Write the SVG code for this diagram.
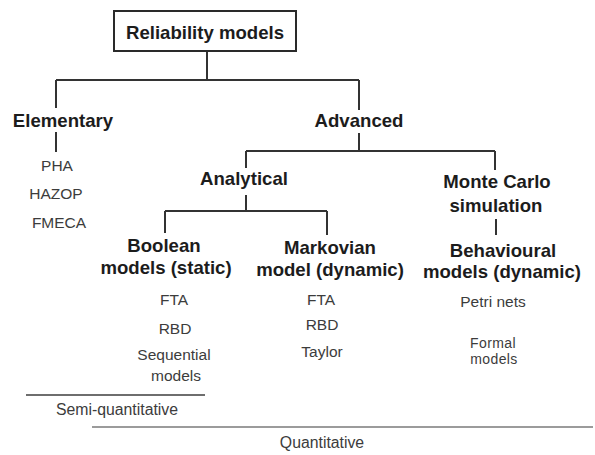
<svg xmlns="http://www.w3.org/2000/svg" width="595" height="455" viewBox="0 0 595 455">
  <style>
    .h { font-family: "Liberation Sans", Arial, sans-serif; font-weight: bold; font-size: 18.6px; fill: #1c1c1c; text-anchor: middle; }
    .t { font-family: "Liberation Sans", Arial, sans-serif; font-size: 15.5px; fill: #3c3c3c; text-anchor: middle; }
    .s { font-family: "Liberation Sans", Arial, sans-serif; font-size: 14px; letter-spacing: 0.4px; fill: #3c3c3c; text-anchor: middle; }
    .q { font-family: "Liberation Sans", Arial, sans-serif; font-size: 15.8px; fill: #3c3c3c; text-anchor: middle; }
    .c { fill: none; stroke: #333; stroke-width: 2; }
    .box { fill: #fff; stroke: #2a2a2a; stroke-width: 2; }
  </style>
  <rect width="595" height="455" fill="#fff"/>

  <!-- tree connectors -->
  <g id="connectors" class="c">
    <path d="M207 51 V80 M56 80 H359 M56 80 V108 M359 80 V110"/>
    <path d="M56 132 V152"/>
    <path d="M359 133 V151 M246 151 H495 M246 151 V168 M495 151 V170"/>
    <path d="M246 195 V211 M165 211 H327 M165 211 V233 M327 211 V235"/>
    <path d="M496 219 V235"/>
  </g>

  <g id="root">
    <rect class="box" x="114" y="11" width="182" height="40"/>
    <text class="h" x="205" y="39">Reliability models</text>
  </g>

  <g id="elementary">
    <text class="h" x="63" y="127">Elementary</text>
    <text class="t" x="57" y="171">PHA</text>
    <text class="t" x="56" y="199">HAZOP</text>
    <text class="t" x="59" y="228">FMECA</text>
  </g>

  <g id="advanced">
    <text class="h" x="359" y="127">Advanced</text>
  </g>

  <g id="analytical">
    <text class="h" x="244" y="185">Analytical</text>
  </g>

  <g id="monte-carlo">
    <text class="h" x="497" y="188">Monte Carlo</text>
    <text class="h" x="496" y="212">simulation</text>
  </g>

  <g id="boolean">
    <text class="h" x="164" y="252">Boolean</text>
    <text class="h" x="166" y="274">models (static)</text>
    <text class="t" x="174" y="305">FTA</text>
    <text class="t" x="175" y="334">RBD</text>
    <text class="t" x="174" y="360">Sequential</text>
    <text class="t" x="176" y="381">models</text>
  </g>

  <g id="markovian">
    <text class="h" x="330" y="254">Markovian</text>
    <text class="h" x="330" y="276">model (dynamic)</text>
    <text class="t" x="321" y="305">FTA</text>
    <text class="t" x="322" y="330">RBD</text>
    <text class="t" x="322" y="357">Taylor</text>
  </g>

  <g id="behavioural">
    <text class="h" x="503" y="257">Behavioural</text>
    <text class="h" x="502" y="278">models (dynamic)</text>
    <text class="t" x="493" y="307">Petri nets</text>
    <text class="s" x="493" y="348">Formal</text>
    <text class="s" x="494" y="364">models</text>
  </g>

  <!-- scope bands -->
  <g id="semi-quantitative">
    <line x1="26" y1="395" x2="205" y2="395" stroke="#6e6e6e" stroke-width="2.2"/>
    <text class="q" x="117" y="415">Semi-quantitative</text>
  </g>
  <g id="quantitative">
    <line x1="92" y1="427" x2="593" y2="427" stroke="#7a7a7a" stroke-width="1.6"/>
    <text class="q" x="322" y="448">Quantitative</text>
  </g>
</svg>
